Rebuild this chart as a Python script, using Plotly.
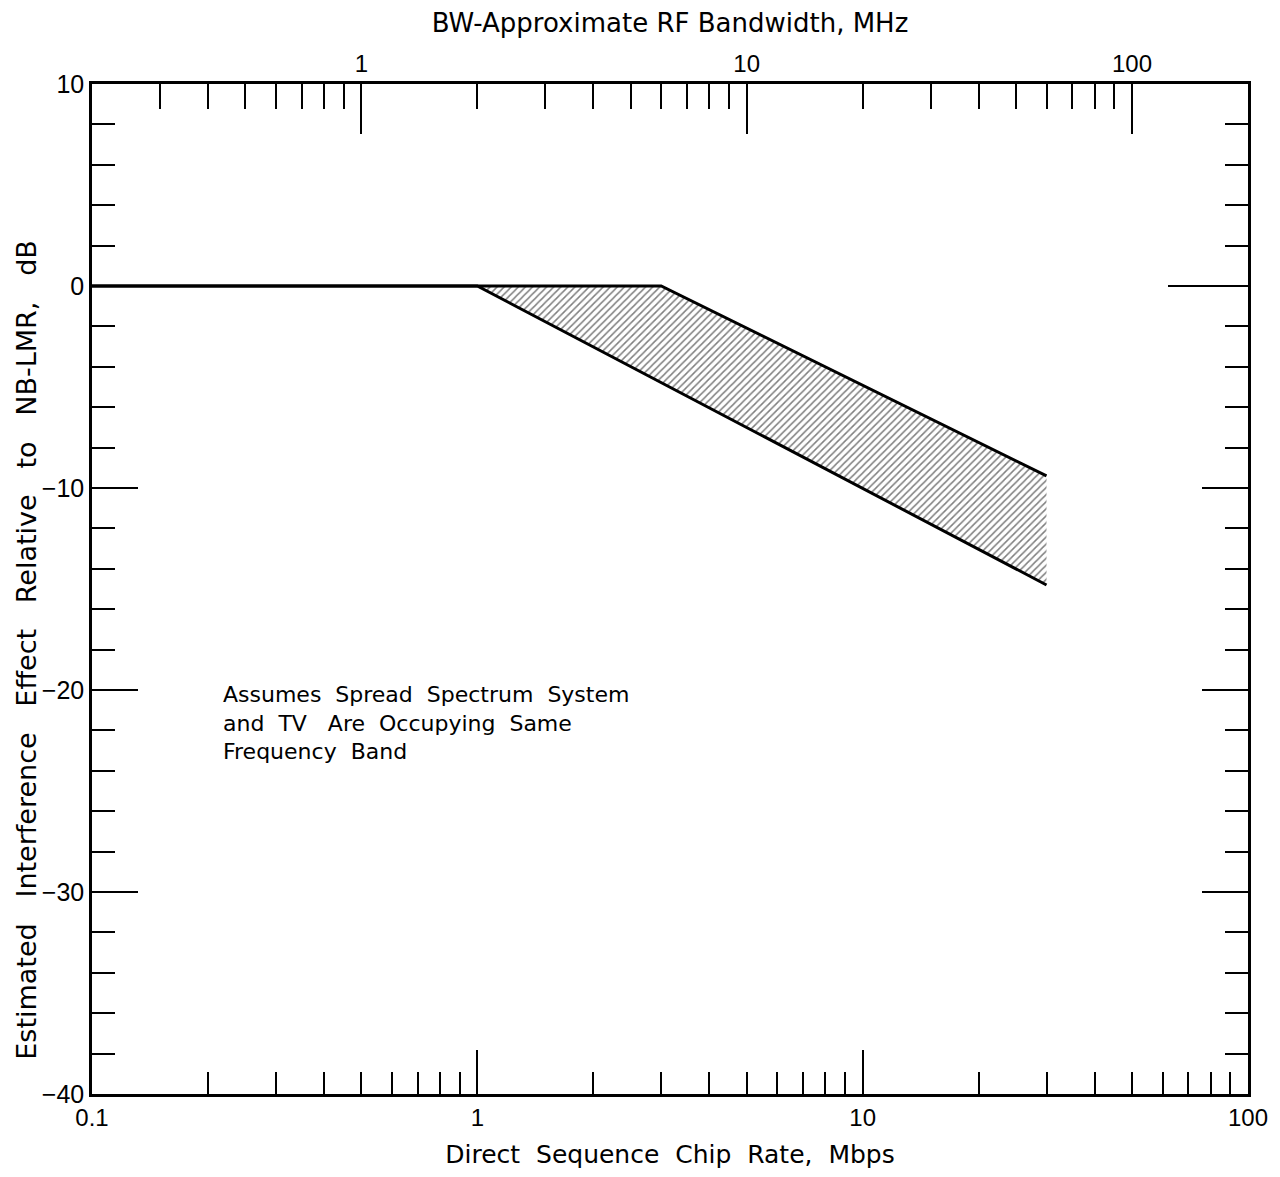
import math
import plotly.graph_objects as go

# ---- data ----
chip_upper = [0.1, 3.0, 30.0]      # Mbps
db_upper = [0.0, 0.0, -9.4]        # dB
chip_lower = [0.1, 1.0, 30.0]      # Mbps
db_lower = [0.0, 0.0, -14.8]       # dB

bw_factor = 2.0                     # RF bandwidth ≈ 2 × chip rate
x_range = [0.1, 100]
y_range = [-40, 10]

x_major = [0.1, 1, 10, 100]
x_major_text = ["0.1", "1", "10", "100"]
x_minor = [m * d for d in (0.1, 1, 10) for m in range(2, 10)]
bw_major = [1, 10, 100]
bw_major_text = ["1", "10", "100"]
bw_minor = [m * d for d in (0.1, 1, 10) for m in range(2, 10) if 0.2 < m * d < 200]
y_major = [-40, -30, -20, -10, 0, 10]

note = "Assumes  Spread  Spectrum  System<br>and  TV   Are  Occupying  Same<br>Frequency  Band"
y_title = "Estimated   Interference   Effect   Relative   to   NB-LMR,   dB"

FONT = "DejaVu Sans"
NUMFONT = "Liberation Sans Narrow, Liberation Sans, Arial"

fig = go.Figure()
fig.add_trace(go.Scatter(x=chip_lower, y=db_lower, mode="lines",
                         line=dict(color="black", width=3), showlegend=False,
                         hoverinfo="skip"))
fig.add_trace(go.Scatter(x=chip_upper, y=db_upper, mode="lines",
                         line=dict(color="black", width=3), showlegend=False,
                         fill="tonexty", fillcolor="rgba(0,0,0,0)",
                         fillpattern=dict(shape="/", size=5, solidity=0.3,
                                          fgcolor="black", bgcolor="white"),
                         hoverinfo="skip"))
# invisible helper traces so the overlay axes are instantiated
fig.add_trace(go.Scatter(x=[c * bw_factor for c in chip_upper], y=db_upper,
                         xaxis="x2", yaxis="y", mode="lines", opacity=0,
                         showlegend=False, hoverinfo="skip"))
fig.add_trace(go.Scatter(x=chip_upper, y=db_upper, xaxis="x", yaxis="y2",
                         mode="lines", opacity=0, showlegend=False, hoverinfo="skip"))

fig.update_layout(
    width=1280, height=1177,
    margin=dict(l=92, r=28, t=84, b=83),
    paper_bgcolor="white", plot_bgcolor="white",
    font=dict(family=FONT, color="black", size=22),
    xaxis=dict(type="log", range=[math.log10(x_range[0]), math.log10(x_range[1])],
               tickmode="array", tickvals=x_major, ticktext=x_major_text,
               ticks="inside", ticklen=44, tickwidth=1.5, tickcolor="black",
               minor=dict(tickmode="array", tickvals=x_minor, ticks="inside",
                          ticklen=22, tickwidth=1.5, tickcolor="black"),
               showline=True, linecolor="black", linewidth=2.5,
               showgrid=False, zeroline=False,
               tickfont=dict(family=NUMFONT, size=24),
               title=dict(text="Direct  Sequence  Chip  Rate,  Mbps",
                          font=dict(family=FONT, size=25), standoff=16)),
    xaxis2=dict(type="log", overlaying="x", side="top", anchor="y",
                range=[math.log10(x_range[0] * bw_factor), math.log10(x_range[1] * bw_factor)],
                tickmode="array", tickvals=bw_major, ticktext=bw_major_text,
                ticks="inside", ticklen=50, tickwidth=1.5, tickcolor="black",
                minor=dict(tickmode="array", tickvals=bw_minor, ticks="inside",
                           ticklen=25, tickwidth=1.5, tickcolor="black"),
                showline=True, linecolor="black", linewidth=2.5,
                showgrid=False, zeroline=False,
                tickfont=dict(family=NUMFONT, size=24),
                title=dict(text="BW-Approximate RF Bandwidth, MHz",
                           font=dict(family=FONT, size=26), standoff=10)),
    yaxis=dict(range=y_range, tickmode="array", tickvals=y_major,
               ticks="inside", ticklen=46, tickwidth=1.5, tickcolor="black",
               minor=dict(dtick=2, ticks="inside", ticklen=23, tickwidth=1.5,
                          tickcolor="black"),
               showline=True, linecolor="black", linewidth=2.5, mirror="ticks",
               showgrid=False, zeroline=False,
               tickfont=dict(family=NUMFONT, size=25)),
    yaxis2=dict(range=y_range, overlaying="y", side="right", anchor="x",
                tickmode="array", tickvals=[0], ticks="inside", ticklen=80,
                tickwidth=1.5, tickcolor="black", showticklabels=False,
                showline=False, showgrid=False, zeroline=False),
    annotations=[
        dict(text=y_title,
             xref="paper", yref="paper", x=-0.057, y=0.44, textangle=-90,
             showarrow=False, font=dict(family=FONT, size=27),
             xanchor="center", yanchor="middle"),
        dict(text=note, xref="paper", yref="paper", x=0.112, y=0.41,
             xanchor="left", yanchor="top", align="left", showarrow=False,
             font=dict(family=FONT, size=22)),
    ],
)

fig.write_html("out.html")
